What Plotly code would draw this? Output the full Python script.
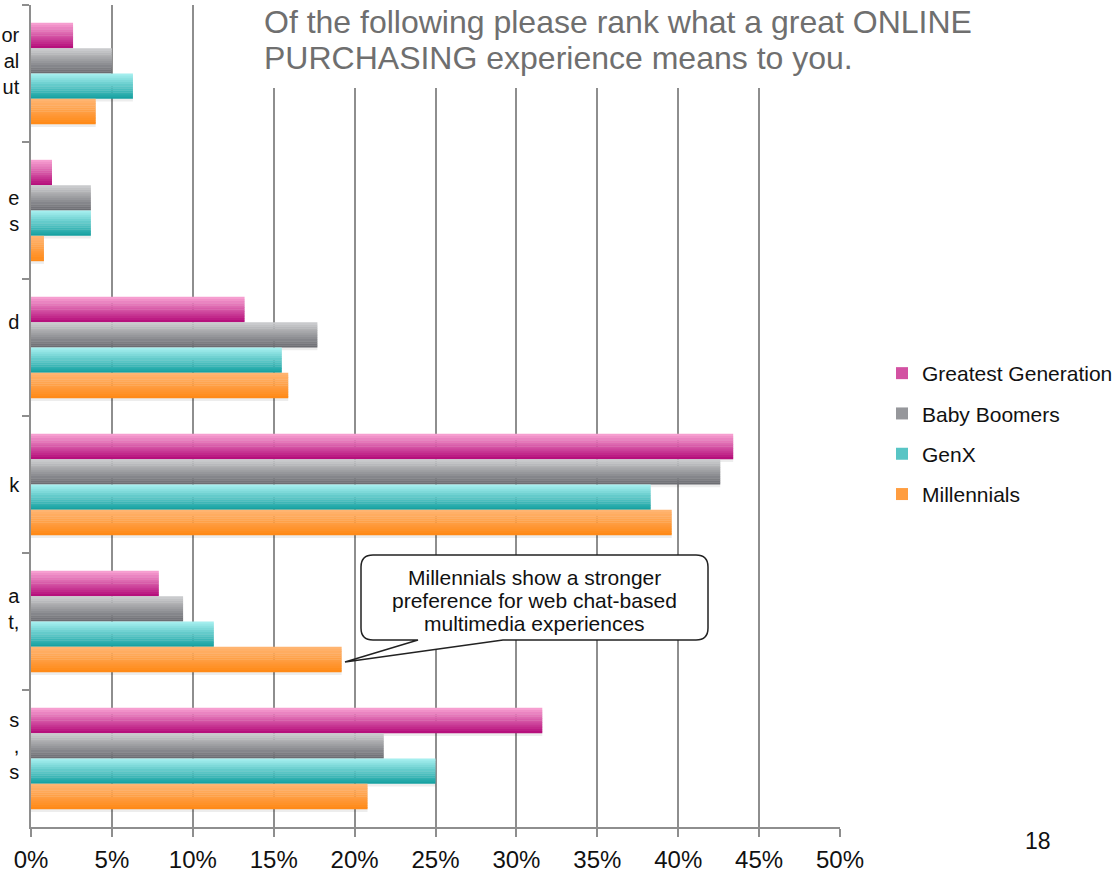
import plotly.graph_objects as go

# category labels (only the right-hand fragments are visible in the source)
categories = [
    "or<br>al<br>ut<br>\u00a0",
    "e<br>s",
    "d<br>\u00a0<br>\u00a0",
    "k",
    "a<br>t,<br>\u00a0",
    "s<br>,<br>s<br>\u00a0",
]

series_names = ["Greatest Generation", "Baby Boomers", "GenX", "Millennials"]

greatest_generation = [2.6, 1.3, 13.2, 43.4, 7.9, 31.6]
baby_boomers = [5.0, 3.7, 17.7, 42.6, 9.4, 21.8]
genx = [6.3, 3.7, 15.5, 38.3, 11.3, 25.0]
millennials = [4.0, 0.8, 15.9, 39.6, 19.2, 20.8]

series_values = [greatest_generation, baby_boomers, genx, millennials]

# (top, bottom) colours of the vertical gradient on each bar
gradients = [
    ((246, 158, 208), (182, 16, 124)),
    ((201, 202, 204), (108, 109, 114)),
    ((164, 238, 238), (24, 162, 162)),
    ((255, 180, 112), (255, 138, 24)),
]

x_ticks = [0, 5, 10, 15, 20, 25, 30, 35, 40, 45, 50]
x_tick_labels = ["0%", "5%", "10%", "15%", "20%", "25%",
                 "30%", "35%", "40%", "45%", "50%"]

title_lines = ["Of the following please rank what a great ONLINE",
               "PURCHASING experience means to you."]
callout_lines = ["Millennials show a stronger",
                 "preference for web chat-based",
                 "multimedia experiences"]
page_number = "18"

W, H = 1120, 872
L, R, T, B = 31, 840, 5, 827
FONT = "Liberation Sans, Arial, sans-serif"
GRID = "#8e8e8e"

BARGAP = 0.26
SLICES = 12


def xp(px):
    """Pixel x to paper x."""
    return (px - L) / (R - L)


def yp(py):
    """Pixel y to paper y."""
    return (B - py) / (B - T)


def mix(c0, c1, t):
    """Blend two rgb tuples."""
    return "rgb({},{},{})".format(*[round(a + (b - a) * t) for a, b in zip(c0, c1)])


fig = go.Figure()

group_w = 1 - BARGAP
bar_w = group_w / len(series_names)
slice_w = bar_w / SLICES

for i, (name, values, (top, bottom)) in enumerate(
        zip(series_names, series_values, gradients)):
    start = -group_w / 2 + i * bar_w
    # soft shadow under each bar
    fig.add_trace(
        go.Bar(
            y=categories, x=values, orientation="h",
            offset=start + 0.02, width=bar_w,
            marker=dict(color="rgba(0,0,0,0.07)", line=dict(width=0)),
            showlegend=False, hoverinfo="skip",
        )
    )
    for k in range(SLICES):
        t = k / (SLICES - 1)
        fig.add_trace(
            go.Bar(
                y=categories,
                x=values,
                orientation="h",
                offset=start + k * slice_w,
                width=slice_w * 1.15 if k < SLICES - 1 else slice_w,
                marker=dict(color=mix(top, bottom, t), line=dict(width=0)),
                name=name,
                legendgroup=name,
                showlegend=(k == SLICES // 2),
                hoverinfo="x" if k == SLICES // 2 else "skip",
            )
        )

# callout bubble with a wedge pointing at the Millennials bar
bubble = (
    f"M {xp(373)},{yp(555)} L {xp(696)},{yp(555)} "
    f"Q {xp(708)},{yp(555)} {xp(708)},{yp(567)} "
    f"L {xp(708)},{yp(628)} Q {xp(708)},{yp(640)} {xp(696)},{yp(640)} "
    f"L {xp(503)},{yp(640)} L {xp(345)},{yp(662)} L {xp(418)},{yp(640)} "
    f"L {xp(373)},{yp(640)} Q {xp(361)},{yp(640)} {xp(361)},{yp(628)} "
    f"L {xp(361)},{yp(567)} Q {xp(361)},{yp(555)} {xp(373)},{yp(555)} Z"
)

shapes = [
    # white box behind the title hides the gridlines
    dict(type="rect", xref="paper", yref="paper",
         x0=xp(250), x1=xp(990), y0=yp(88), y1=yp(-10),
         fillcolor="white", line=dict(width=0), layer="above"),
    dict(type="path", xref="paper", yref="paper", path=bubble,
         fillcolor="white", line=dict(color="#222222", width=1.5),
         layer="above"),
]

annotations = []
for line, py in zip(title_lines, [22, 58]):
    annotations.append(
        dict(text=line, xref="paper", yref="paper",
             x=xp(262), y=yp(py), xanchor="left", yanchor="middle",
             showarrow=False,
             font=dict(family=FONT, size=32, color="#6f6f6f")))
for line, py in zip(callout_lines, [577, 600, 623]):
    annotations.append(
        dict(text=line, xref="paper", yref="paper",
             x=xp(534), y=yp(py), xanchor="center", yanchor="middle",
             showarrow=False,
             font=dict(family=FONT, size=21, color="#111111")))
annotations.append(
    dict(text=page_number, xref="paper", yref="paper",
         x=xp(1038), y=yp(841), xanchor="center", yanchor="middle",
         showarrow=False,
         font=dict(family=FONT, size=23, color="#111111")))

fig.update_layout(
    width=W,
    height=H,
    margin=dict(l=L, r=W - R, t=T, b=H - B, autoexpand=False),
    paper_bgcolor="white",
    plot_bgcolor="white",
    barmode="overlay",
    font=dict(family=FONT, size=20, color="#111111"),
    showlegend=True,
    legend=dict(
        x=xp(882), y=yp(434), xanchor="left", yanchor="middle",
        traceorder="grouped", tracegroupgap=10, itemwidth=30,
        font=dict(family=FONT, size=21, color="#111111"),
        bgcolor="rgba(0,0,0,0)",
    ),
    xaxis=dict(
        range=[0, 50],
        tickvals=x_ticks,
        ticktext=x_tick_labels,
        automargin=False,
        showgrid=True,
        gridcolor=GRID,
        gridwidth=1.5,
        zeroline=False,
        showline=True,
        linecolor=GRID,
        linewidth=1.5,
        ticks="outside",
        ticklen=8,
        tickcolor=GRID,
        tickwidth=1.5,
        ticklabelstandoff=2,
        tickfont=dict(family=FONT, size=24, color="#111111"),
    ),
    yaxis=dict(
        type="category",
        categoryorder="array",
        categoryarray=categories,
        autorange="reversed",
        automargin=False,
        tickson="boundaries",
        showgrid=False,
        zeroline=False,
        showline=True,
        linecolor=GRID,
        linewidth=1.5,
        ticks="outside",
        ticklen=7,
        tickcolor=GRID,
        tickwidth=1.5,
        ticklabelstandoff=6,
        tickfont=dict(family=FONT, size=20, color="#111111"),
    ),
    shapes=shapes,
    annotations=annotations,
)

# drop the browser's default 8px body margin so the figure sits at 0,0
fig.write_html("out.html", config={"displayModeBar": False},
               post_script="document.body.style.margin='0';")
